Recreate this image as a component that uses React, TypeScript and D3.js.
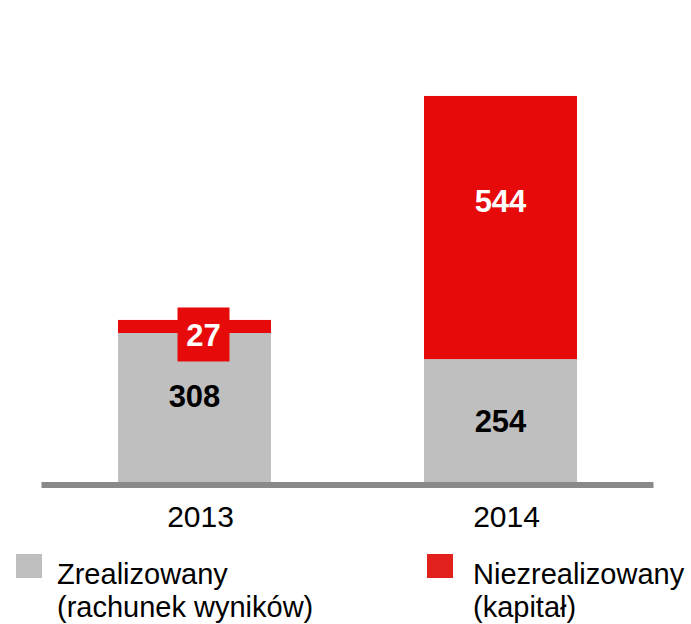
import React from "react";
import * as d3 from "d3";

const categories = ["2013", "2014"];
const realized = [308, 254];
const unrealized = [27, 544];
const legendLabels = [
  ["Zrealizowany", "(rachunek wyników)"],
  ["Niezrealizowany", "(kapitał)"],
];

const W = 691;
const H = 624;
const BASE = 482;
const FONT = "'Liberation Sans', Arial, sans-serif";
const BAR_RED = "#E60A0A";
const BAR_GRAY = "#BFBFBF";
const LEG_RED = "#E3211C";
const LEG_GRAY = "#BEBEBE";
const AXIS = "#898989";

// style offsets (px) for value labels relative to segment centers
const grayLabelDy = [-12, 0];
const redLabelDy = [8, -27];

export default function App() {
  const x = d3.scaleBand<string>().domain(categories).range([41.5, 653.5]).paddingInner(0.5).paddingOuter(0.25);
  const y = d3.scaleLinear().domain([0, 800]).range([BASE, 95]);
  const stack = d3.stack<any>().keys(["r", "u"])(
    categories.map((c, i) => ({ c, r: realized[i], u: unrealized[i] }))
  );
  const bw = x.bandwidth();
  const vfs = 31;
  return (
    <svg width={W} height={H} style={{ position: "absolute", left: 0, top: 0, background: "#fff" }} fontFamily={FONT}>
      {stack.map((layer, li) =>
        layer.map((d, i) => (
          <rect
            key={`${li}-${i}`}
            x={x(categories[i])!}
            y={y(d[1])}
            width={bw}
            height={y(d[0]) - y(d[1])}
            fill={li === 0 ? BAR_GRAY : BAR_RED}
          />
        ))
      )}
      <rect x={41.5} y={BASE} width={612} height={6} fill={AXIS} />
      {categories.map((c, i) => {
        const cx = x(c)! + bw / 2;
        const g0 = y(0), g1 = y(realized[i]);
        const r1 = y(realized[i] + unrealized[i]);
        const gc = (g0 + g1) / 2 + grayLabelDy[i];
        const rc = (g1 + r1) / 2 + redLabelDy[i];
        const small = y(0) - y(unrealized[i]) < 40;
        const rx = small ? cx + 9 : cx;
        return (
          <g key={c}>
            <text x={cx} y={gc + vfs * 0.36} textAnchor="middle" fontSize={vfs} fontWeight="bold" fill="#000">
              {realized[i]}
            </text>
            {small && <rect x={rx - 26} y={rc - 27} width={52} height={54} fill={BAR_RED} />}
            <text x={rx} y={rc + vfs * 0.36} textAnchor="middle" fontSize={vfs} fontWeight="bold" fill="#fff">
              {unrealized[i]}
            </text>
          </g>
        );
      })}
      {categories.map((c) => (
        <text key={c} x={x(c)! + bw / 2 + 6} y={527} textAnchor="middle" fontSize={30} fill="#000">
          {c}
        </text>
      ))}
      {legendLabels.map((lines, i) => {
        const lx = i === 0 ? 16 : 427;
        const tx = i === 0 ? 57 : 473;
        return (
          <g key={i}>
            <rect x={lx} y={554} width={26} height={24} fill={i === 0 ? LEG_GRAY : LEG_RED} />
            {lines.map((t, j) => (
              <text key={j} x={tx} y={584 + j * 33} fontSize={29} fill="#000">
                {t}
              </text>
            ))}
          </g>
        );
      })}
    </svg>
  );
}
